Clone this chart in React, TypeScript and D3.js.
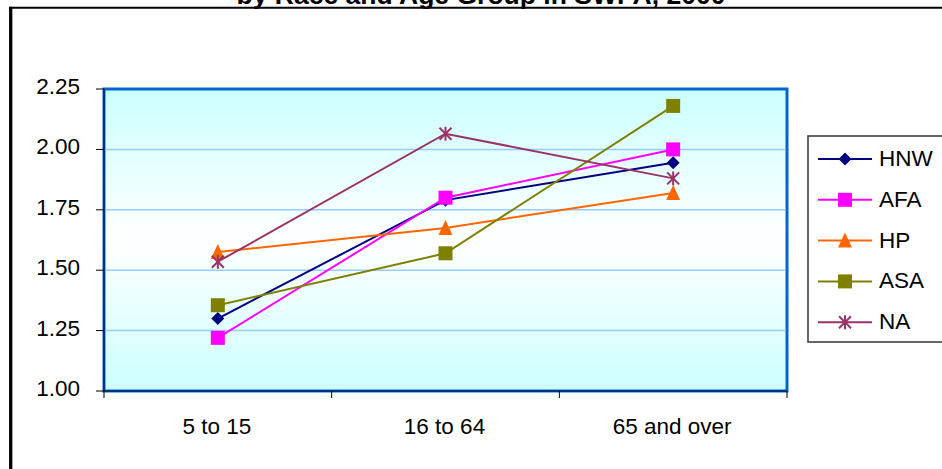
import React from "react";
import * as d3 from "d3";

const categories = ["5 to 15", "16 to 64", "65 and over"];
const seriesNames = ["HNW", "AFA", "HP", "ASA", "NA"];
const hnwValues = [1.3, 1.79, 1.945];
const afaValues = [1.22, 1.8, 2.0];
const hpValues = [1.575, 1.675, 1.82];
const asaValues = [1.355, 1.57, 2.18];
const naValues = [1.535, 2.065, 1.88];
const yTicks = [1.0, 1.25, 1.5, 1.75, 2.0, 2.25];
const titleLine = "by Race and Age Group in SWPA, 2000";

const colors = ["#000080", "#FF00FF", "#FF6600", "#808000", "#993366"];
const markers = ["diamond", "square", "triangle", "square", "star"];
const allValues = [hnwValues, afaValues, hpValues, asaValues, naValues];

const W = 942;
const H = 469;
const plot = { left: 104, right: 787, top: 89, bottom: 391 };
const FONT = "'Liberation Sans', Arial, sans-serif";

function Marker({ type, x, y, color }: { type: string; x: number; y: number; color: string }) {
  if (type === "diamond") {
    const r = 6.5;
    return <path d={`M${x},${y - r}L${x + r},${y}L${x},${y + r}L${x - r},${y}Z`} fill={color} />;
  }
  if (type === "square") {
    const s = 14;
    return <rect x={x - s / 2} y={y - s / 2} width={s} height={s} fill={color} />;
  }
  if (type === "triangle") {
    const s = 14;
    return <path d={`M${x},${y - s / 2 - 1}L${x + s / 2},${y + s / 2}L${x - s / 2},${y + s / 2}Z`} fill={color} />;
  }
  const r = 6;
  return (
    <g stroke={color} strokeWidth={2}>
      <line x1={x - r} y1={y - r} x2={x + r} y2={y + r} />
      <line x1={x - r} y1={y + r} x2={x + r} y2={y - r} />
      <line x1={x} y1={y - r - 1} x2={x} y2={y + r + 1} />
    </g>
  );
}

export default function App() {
  const x = d3.scaleBand<string>().domain(categories).range([plot.left, plot.right]);
  const y = d3.scaleLinear().domain([1, 2.25]).range([plot.bottom, plot.top]);
  const cx = (c: string) => (x(c) as number) + x.bandwidth() / 2;
  const line = d3
    .line<number>()
    .x((_, i) => cx(categories[i]))
    .y((v) => y(v));

  const xTickPos = [...categories.map((c) => x(c) as number), plot.right];
  const legendY = (i: number) => 159 + i * 40.8;

  return (
    <svg
      width={W}
      height={H}
      style={{ position: "fixed", left: 0, top: 0, display: "block", background: "#fff" }}
      fontFamily={FONT}
    >
      <defs>
        <linearGradient id="plotbg" x1="0" y1="0" x2="0" y2="1">
          <stop offset="0" stopColor="#CCFFFF" />
          <stop offset="0.5" stopColor="#FFFFFF" />
          <stop offset="1" stopColor="#CCFFFF" />
        </linearGradient>
      </defs>

      {/* title (cut off at top) */}
      <text x={481} y={3.5} textAnchor="middle" fontSize={26.5} fontWeight="bold" fill="#000">
        {titleLine}
      </text>

      {/* outer frame */}
      <line x1={9} y1={7.7} x2={W + 5} y2={7.7} stroke="#000" strokeWidth={2} />
      <line x1={10.7} y1={6.7} x2={10.7} y2={H + 5} stroke="#000" strokeWidth={3.3} />

      {/* plot area */}
      <rect
        x={plot.left}
        y={plot.top}
        width={plot.right - plot.left}
        height={plot.bottom - plot.top}
        fill="url(#plotbg)"
        stroke="#0066CC"
        strokeWidth={3}
      />
      {yTicks.slice(1, -1).map((t) => (
        <line key={t} x1={plot.left + 1.5} x2={plot.right - 1.5} y1={y(t)} y2={y(t)} stroke="#99CCFF" strokeWidth={1.5} />
      ))}
      {/* axes */}
      <line x1={plot.left} x2={plot.left} y1={plot.top} y2={plot.bottom} stroke="#000033" strokeWidth={1} />
      <line x1={plot.left} x2={plot.right} y1={plot.bottom} y2={plot.bottom} stroke="#000033" strokeWidth={1} />

      {yTicks.map((t) => (
        <g key={t}>
          <line x1={plot.left - 8} x2={plot.left} y1={y(t)} y2={y(t)} stroke="#000" strokeWidth={1} />
          <text x={80} y={y(t) + 5} textAnchor="end" fontSize={22.5} fill="#000">
            {t.toFixed(2)}
          </text>
        </g>
      ))}
      {xTickPos.map((p, i) => (
        <line key={i} x1={p} x2={p} y1={plot.bottom} y2={plot.bottom + 7} stroke="#000" strokeWidth={1} />
      ))}
      {categories.map((c) => (
        <text key={c} x={cx(c) - 1} y={434} textAnchor="middle" fontSize={22.5} fill="#000">
          {c}
        </text>
      ))}

      {/* series */}
      {allValues.map((vals, si) => (
        <g key={seriesNames[si]}>
          <path d={line(vals) || ""} fill="none" stroke={colors[si]} strokeWidth={2} />
          {vals.map((v, i) => (
            <Marker key={i} type={markers[si]} x={cx(categories[i])} y={y(v)} color={colors[si]} />
          ))}
        </g>
      ))}

      {/* legend */}
      <rect x={808} y={136} width={150} height={206} fill="#fff" stroke="#333" strokeWidth={1.5} />
      {seriesNames.map((n, i) => (
        <g key={n}>
          <line x1={818} x2={872} y1={legendY(i)} y2={legendY(i)} stroke={colors[i]} strokeWidth={2} />
          <Marker type={markers[i]} x={845} y={legendY(i)} color={colors[i]} />
          <text x={879} y={legendY(i) + 7} fontSize={22.5} fill="#000">
            {n}
          </text>
        </g>
      ))}
    </svg>
  );
}
